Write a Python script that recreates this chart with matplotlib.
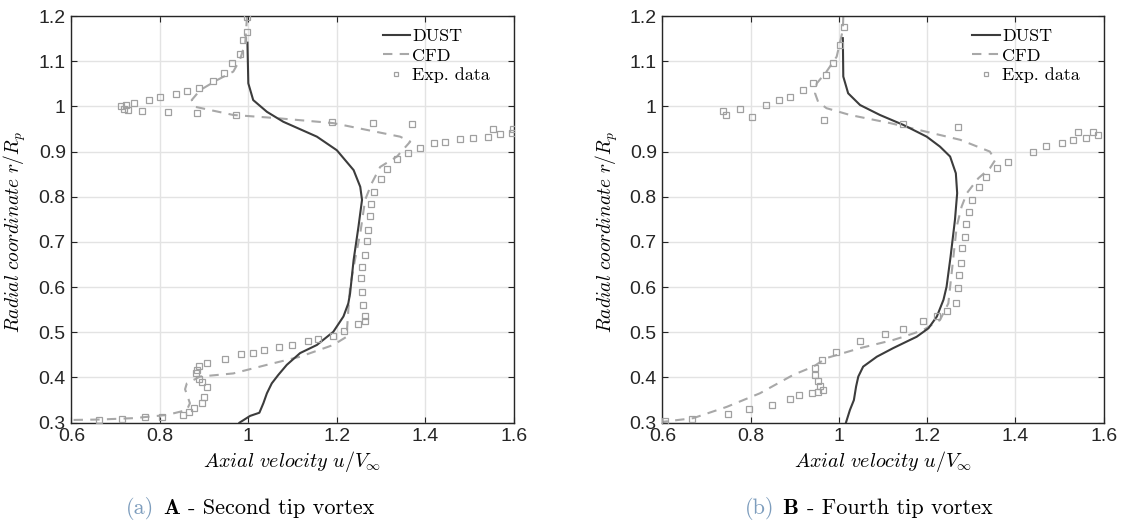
import matplotlib
matplotlib.use("Agg")
import matplotlib.pyplot as plt
from matplotlib.offsetbox import TextArea, HPacker, AnchoredOffsetbox

plt.rcParams["mathtext.fontset"] = "cm"
plt.rcParams["font.family"] = ["Liberation Sans", "DejaVu Sans"]

# ---------------- Panel A: second tip vortex ----------------
a_dust_u = [0.998, 1.000, 1.011, 1.042, 1.079, 1.155, 1.200, 1.238, 1.253, 1.257,
            1.249, 1.238, 1.230, 1.226, 1.215, 1.192, 1.155, 1.117, 1.087, 1.068,
            1.053, 1.042, 1.034, 1.025, 1.004, 0.980]
a_dust_r = [1.141, 1.051, 1.014, 0.988, 0.966, 0.933, 0.903, 0.859, 0.822, 0.793,
            0.734, 0.660, 0.586, 0.564, 0.535, 0.501, 0.472, 0.454, 0.428, 0.406,
            0.387, 0.365, 0.343, 0.322, 0.315, 0.300]

a_cfd_u = [0.997, 0.993, 0.981, 0.966, 0.929, 0.891, 0.872, 0.880, 0.966, 1.064,
           1.192, 1.343, 1.366, 1.336, 1.298, 1.279, 1.264, 1.253, 1.241, 1.230,
           1.226, 1.222, 1.192, 1.117, 1.042, 0.966, 0.891, 0.861, 0.857, 0.868,
           0.861, 0.816, 0.740, 0.665, 0.600]
a_cfd_r = [1.198, 1.140, 1.103, 1.077, 1.058, 1.036, 1.014, 0.999, 0.981, 0.974,
           0.963, 0.933, 0.922, 0.889, 0.866, 0.830, 0.793, 0.719, 0.660, 0.600,
           0.549, 0.490, 0.472, 0.446, 0.428, 0.409, 0.402, 0.387, 0.374, 0.343,
           0.328, 0.317, 0.310, 0.307, 0.306]

a_exp_u = [0.997, 0.997, 0.989, 0.981, 0.963, 0.945, 0.920, 0.889, 0.862, 0.837,
           0.801, 0.776, 0.742, 0.724, 0.712, 0.719, 0.729, 0.760, 0.819, 0.884,
           0.972, 1.189, 1.281, 1.370, 1.598, 1.596, 1.569, 1.554, 1.541, 1.508,
           1.479, 1.445, 1.420, 1.388, 1.362, 1.336, 1.314, 1.300, 1.285, 1.278,
           1.274, 1.271, 1.269, 1.263, 1.258, 1.254, 1.257, 1.260, 1.264, 1.264,
           1.249, 1.217, 1.191, 1.158, 1.134, 1.098, 1.070, 1.036, 1.011, 0.984,
           0.947, 0.906, 0.889, 0.884, 0.882, 0.888, 0.895, 0.907, 0.900, 0.895,
           0.878, 0.867, 0.852, 0.806, 0.767, 0.714, 0.663]
a_exp_r = [1.197, 1.165, 1.147, 1.117, 1.095, 1.073, 1.056, 1.040, 1.034, 1.027,
           1.020, 1.014, 1.007, 1.002, 1.001, 0.995, 0.992, 0.990, 0.988, 0.986,
           0.981, 0.965, 0.964, 0.960, 0.951, 0.942, 0.939, 0.951, 0.933, 0.931,
           0.927, 0.922, 0.918, 0.907, 0.897, 0.883, 0.861, 0.839, 0.810, 0.784,
           0.757, 0.726, 0.701, 0.671, 0.645, 0.620, 0.590, 0.560, 0.535, 0.526,
           0.518, 0.504, 0.492, 0.486, 0.481, 0.472, 0.468, 0.461, 0.455, 0.453,
           0.442, 0.433, 0.425, 0.417, 0.409, 0.397, 0.389, 0.378, 0.356, 0.343,
           0.332, 0.323, 0.316, 0.313, 0.313, 0.308, 0.307]

# ---------------- Panel B: fourth tip vortex ----------------
b_dust_u = [1.009, 1.010, 1.021, 1.048, 1.093, 1.146, 1.199, 1.229, 1.252, 1.265,
            1.268, 1.263, 1.253, 1.244, 1.237, 1.222, 1.203, 1.176, 1.161, 1.123,
            1.086, 1.055, 1.044, 1.039, 1.034, 1.025, 1.016]
b_dust_r = [1.151, 1.066, 1.029, 1.003, 0.981, 0.959, 0.933, 0.911, 0.889, 0.852,
            0.808, 0.749, 0.667, 0.601, 0.572, 0.535, 0.509, 0.490, 0.483, 0.465,
            0.446, 0.424, 0.402, 0.380, 0.350, 0.328, 0.300]

b_cfd_u = [1.010, 1.009, 0.995, 0.972, 0.950, 0.946, 0.953, 0.972, 1.025, 1.116,
           1.275, 1.342, 1.354, 1.342, 1.316, 1.290, 1.278, 1.267, 1.248, 1.229,
           1.191, 1.146, 1.123, 1.048, 0.972, 0.942, 0.897, 0.821, 0.746, 0.670,
           0.602]
b_cfd_r = [1.198, 1.169, 1.110, 1.077, 1.051, 1.029, 1.010, 0.996, 0.981, 0.963,
           0.926, 0.900, 0.881, 0.863, 0.841, 0.808, 0.778, 0.734, 0.564, 0.527,
           0.505, 0.490, 0.483, 0.465, 0.443, 0.424, 0.406, 0.365, 0.335, 0.310,
           0.302]

b_exp_u = [1.012, 1.003, 0.987, 0.971, 0.942, 0.918, 0.889, 0.865, 0.835, 0.776,
           0.737, 0.744, 0.804, 0.966, 1.146, 1.271, 1.588, 1.575, 1.559, 1.542,
           1.531, 1.505, 1.469, 1.439, 1.384, 1.359, 1.333, 1.318, 1.301, 1.295,
           1.288, 1.286, 1.278, 1.276, 1.272, 1.269, 1.265, 1.246, 1.222, 1.190,
           1.145, 1.105, 1.048, 0.993, 0.962, 0.947, 0.947, 0.952, 0.957, 0.963,
           0.952, 0.939, 0.910, 0.889, 0.849, 0.796, 0.749, 0.668, 0.605]
b_exp_r = [1.175, 1.136, 1.095, 1.069, 1.052, 1.036, 1.020, 1.014, 1.003, 0.994,
           0.990, 0.981, 0.977, 0.970, 0.961, 0.955, 0.936, 0.943, 0.931, 0.944,
           0.926, 0.920, 0.913, 0.898, 0.876, 0.863, 0.843, 0.821, 0.793, 0.767,
           0.739, 0.711, 0.686, 0.653, 0.627, 0.599, 0.564, 0.548, 0.537, 0.524,
           0.507, 0.496, 0.481, 0.456, 0.439, 0.420, 0.406, 0.393, 0.382, 0.372,
           0.368, 0.366, 0.361, 0.352, 0.339, 0.330, 0.320, 0.309, 0.304]

x_ticks = [0.6, 0.8, 1.0, 1.2, 1.4, 1.6]
x_ticklabels = ["0.6", "0.8", "1", "1.2", "1.4", "1.6"]
y_ticks = [0.3, 0.4, 0.5, 0.6, 0.7, 0.8, 0.9, 1.0, 1.1, 1.2]
y_ticklabels = ["0.3", "0.4", "0.5", "0.6", "0.7", "0.8", "0.9", "1", "1.1", "1.2"]

panels = [
    dict(dust=(a_dust_u, a_dust_r), cfd=(a_cfd_u, a_cfd_r), exp=(a_exp_u, a_exp_r),
         tag="(a)", letter="A", title="- Second tip vortex"),
    dict(dust=(b_dust_u, b_dust_r), cfd=(b_cfd_u, b_cfd_r), exp=(b_exp_u, b_exp_r),
         tag="(b)", letter="B", title="- Fourth tip vortex"),
]

DUST_C = "#3c3c3c"
CFD_C = "#a8a8a8"
EXP_C = "#a0a0a0"
SPINE_C = "#262626"
TAG_C = "#7d9dbd"

fig = plt.figure(figsize=(11.22, 5.25), dpi=100)
axes_rects = [[0.0636, 0.1949, 0.3943, 0.7746], [0.5903, 0.1949, 0.3934, 0.7746]]
caption_x = [0.223, 0.774]

for rect, p, cx in zip(axes_rects, panels, caption_x):
    ax = fig.add_axes(rect)
    ax.plot(*p["dust"], color=DUST_C, lw=1.5, label="DUST", zorder=3)
    ax.plot(*p["cfd"], color=CFD_C, lw=1.5, ls=(0, (4.5, 3.5)), label="CFD", zorder=2)
    ax.plot(*p["exp"], ls="none", marker="s", ms=4, mfc="none", mec=EXP_C, mew=0.9,
            label="Exp. data", zorder=4)

    ax.set_xlim(0.6, 1.6)
    ax.set_ylim(0.3, 1.2)
    ax.set_xticks(x_ticks)
    ax.set_xticklabels(x_ticklabels)
    ax.set_yticks(y_ticks)
    ax.set_yticklabels(y_ticklabels)
    ax.grid(True, color="#e3e3e3", lw=1.0)
    ax.set_axisbelow(True)
    ax.tick_params(direction="in", top=True, right=True, length=4, width=0.8,
                   color=SPINE_C, labelsize=14, labelcolor="#262626", pad=4)
    for s in ax.spines.values():
        s.set_color(SPINE_C)
        s.set_linewidth(1.0)

    ax.set_xlabel(r"$\mathit{Axial\ velocity}\ u/V_{\infty}$", fontsize=14.5, labelpad=3)
    ax.set_ylabel(r"$\mathit{Radial\ coordinate}\ r/R_p$", fontsize=14, labelpad=4)
    ax.yaxis.set_label_coords(-0.097, 0.47)

    ax.legend(loc="upper right", bbox_to_anchor=(0.975, 1.0), frameon=False,
              prop=dict(family="cmr10", size=13), handlelength=1.5,
              handletextpad=0.15, labelspacing=0.2, borderaxespad=0.3,
              markerscale=0.8)

    # caption below each panel: coloured tag, bold letter, plain title
    parts = [
        TextArea(p["tag"], textprops=dict(color=TAG_C, fontsize=16, family="cmr10")),
        TextArea(p["letter"], textprops=dict(color="black", fontsize=16, family="cmb10")),
        TextArea(p["title"], textprops=dict(color="black", fontsize=16, family="cmr10")),
    ]
    box = HPacker(children=parts, align="baseline", pad=0, sep=6)
    anchored = AnchoredOffsetbox(loc="center", child=box, frameon=False, pad=0,
                                 bbox_to_anchor=(cx, 0.032),
                                 bbox_transform=fig.transFigure, borderpad=0)
    fig.add_artist(anchored)

fig.savefig("out.png", dpi=100)
